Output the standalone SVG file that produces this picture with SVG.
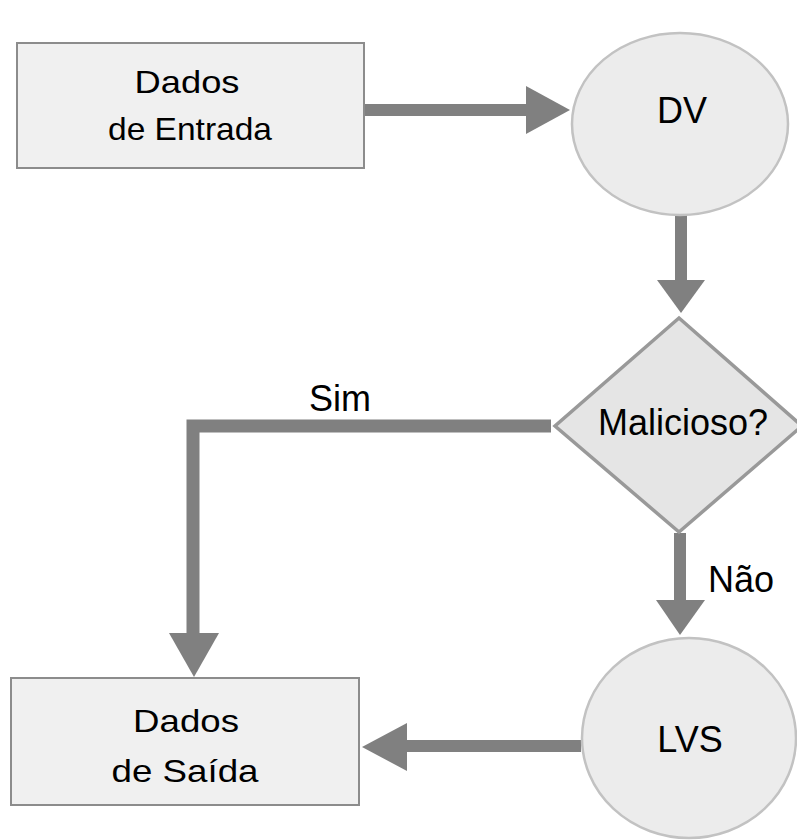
<svg xmlns="http://www.w3.org/2000/svg" width="797" height="840" viewBox="0 0 797 840">
  <style>
    .box { fill: #f0f0f0; stroke: #8c8c8c; stroke-width: 2; }
    .round { fill: #ececec; stroke: #c2c2c2; stroke-width: 2.5; }
    .decision { fill: #e5e5e5; stroke: #999999; stroke-width: 3.5; }
    .shaft { fill: none; stroke: #808080; stroke-width: 12; stroke-linejoin: miter; stroke-linecap: butt; }
    .head { fill: #808080; }
    text { font-family: "Liberation Sans", Arial, sans-serif; fill: #000; text-anchor: middle; }
    .lbl { font-size: 36px; }
    .box-lbl { font-size: 32px; }
  </style>

  <rect width="797" height="840" fill="#ffffff"/>

  <!-- connectors -->
  <g id="connectors">
    <g id="e-entrada-dv">
      <path class="shaft" d="M364,110 H527"/>
      <polygon class="head" points="526,86 570,110 526,134"/>
    </g>
    <g id="e-dv-malicioso">
      <path class="shaft" d="M681,215 V281"/>
      <polygon class="head" points="657,280 705,280 681,313"/>
    </g>
    <g id="e-malicioso-saida">
      <path class="shaft" d="M551,426 H193 V634" style="stroke-width:13"/>
      <polygon class="head" points="169,633 219,633 194,677"/>
      <text class="lbl" x="340" y="411">Sim</text>
    </g>
    <g id="e-malicioso-lvs">
      <path class="shaft" d="M680,533 V601"/>
      <polygon class="head" points="656,600 705,600 680,635"/>
      <text class="lbl" x="741" y="592">Não</text>
    </g>
    <g id="e-lvs-saida">
      <path class="shaft" d="M581,746 H406"/>
      <polygon class="head" points="407,723 362,747 407,771"/>
    </g>
  </g>

  <!-- nodes -->
  <g id="dados-entrada">
    <rect class="box" x="17" y="43" width="347" height="125"/>
    <text class="box-lbl" x="187" y="93" textLength="105" lengthAdjust="spacingAndGlyphs">Dados</text>
    <text class="box-lbl" x="190" y="140" textLength="164" lengthAdjust="spacingAndGlyphs">de Entrada</text>
  </g>

  <g id="dv">
    <ellipse class="round" cx="680" cy="124" rx="108" ry="91"/>
    <text class="lbl" x="682" y="123">DV</text>
  </g>

  <g id="malicioso">
    <polygon class="decision" points="679,318 802,426 679,532 555,426"/>
    <text class="lbl" x="683" y="435">Malicioso?</text>
  </g>

  <g id="lvs">
    <ellipse class="round" cx="689" cy="738" rx="107" ry="100"/>
    <text class="lbl" x="690" y="752">LVS</text>
  </g>

  <g id="dados-saida">
    <rect class="box" x="11" y="678" width="348" height="127"/>
    <text class="box-lbl" x="186" y="732" textLength="106" lengthAdjust="spacingAndGlyphs">Dados</text>
    <text class="box-lbl" x="185" y="782" textLength="147" lengthAdjust="spacingAndGlyphs">de Saída</text>
  </g>
</svg>
